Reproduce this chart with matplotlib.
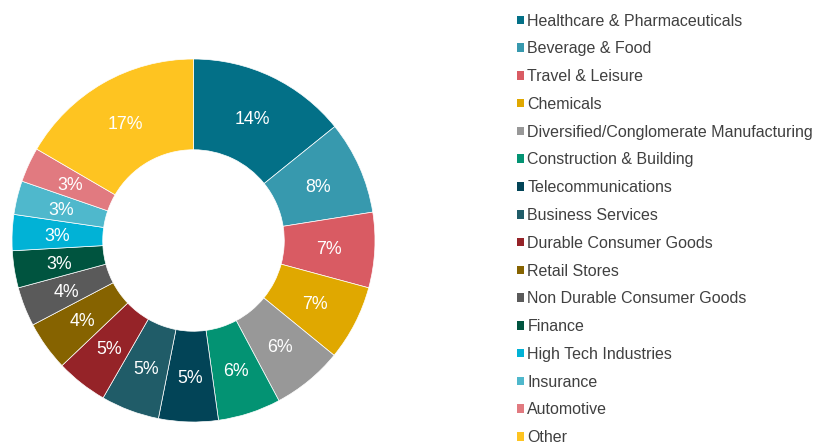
import matplotlib
matplotlib.use("Agg")
import matplotlib.pyplot as plt
from matplotlib.patches import Patch

plt.rcParams['font.family'] = ['Liberation Sans', 'DejaVu Sans']

categories = [
    "Healthcare & Pharmaceuticals", "Beverage & Food", "Travel & Leisure",
    "Chemicals", "Diversified/Conglomerate Manufacturing", "Construction & Building",
    "Telecommunications", "Business Services", "Durable Consumer Goods",
    "Retail Stores", "Non Durable Consumer Goods", "Finance",
    "High Tech Industries", "Insurance", "Automotive", "Other",
]
values = [14.2, 8.3, 6.7, 6.7, 6.3, 5.6, 5.3, 5.2, 4.6, 4.4, 3.5, 3.3, 3.2, 3.0, 3.1, 16.6]
pct_labels = ["14%", "8%", "7%", "7%", "6%", "6%", "5%", "5%", "5%", "4%",
              "4%", "3%", "3%", "3%", "3%", "17%"]
colors = ["#037087", "#3799AE", "#D95B63", "#E0A800", "#989898", "#039373",
          "#024457", "#205C68", "#952328", "#866300", "#5A5A5A", "#00543F",
          "#01B2D6", "#4FB8CC", "#E17A80", "#FEC421"]

W, H = 814, 445
fig = plt.figure(figsize=(W / 100, H / 100), dpi=100)

cx, cy, r = 193.5, 240.5, 181.5
ax = fig.add_axes([(cx - r) / W, (H - cy - r) / H, 2 * r / W, 2 * r / H])
wedges, texts = ax.pie(values, colors=colors, startangle=90, counterclock=False,
                       labels=pct_labels, labeldistance=0.75, radius=1.0,
                       wedgeprops=dict(width=0.5, linewidth=0.5, edgecolor="white"),
                       textprops=dict(color="white", fontsize=12.8))
for t in texts:
    t.set_horizontalalignment("center")
    t.set_verticalalignment("center_baseline")
ax.set_xlim(-1, 1)
ax.set_ylim(-1, 1)
ax.set_aspect("equal")
ax.axis("off")

handles = [Patch(facecolor=c, edgecolor="none") for c in colors]
leg = fig.legend(handles, categories, loc="upper left",
                 bbox_to_anchor=(517 / W, 1 - 13.5 / H), frameon=False,
                 fontsize=11.5, handlelength=0.45, handleheight=0.45,
                 handletextpad=0.2, labelspacing=0.8, borderaxespad=0,
                 borderpad=0)
for t in leg.get_texts():
    t.set_color("#404040")

fig.savefig("out.png", dpi=100)
